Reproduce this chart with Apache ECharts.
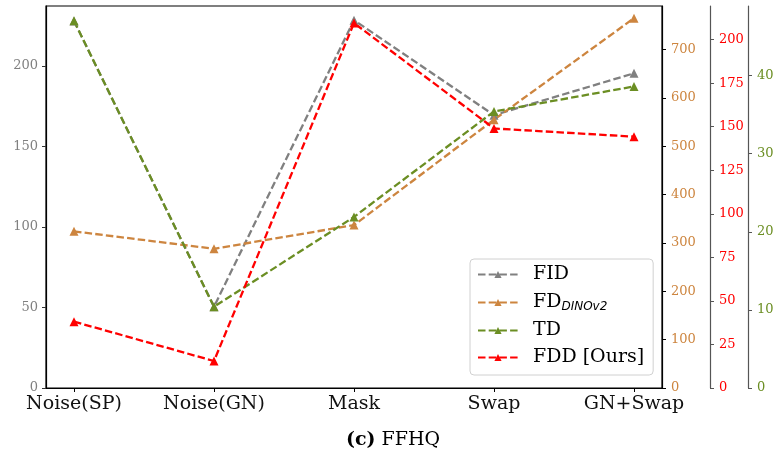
<!DOCTYPE html>
<html>
<head>
<meta charset="utf-8">
<script src="https://cdn.jsdelivr.net/npm/echarts@6/dist/echarts.min.js"></script>
<style>html,body{margin:0;padding:0;background:#fff}#c{width:779px;height:457px}</style>
</head>
<body>
<div id="c"></div>
<script>
const categories = ['Noise(SP)', 'Noise(GN)', 'Mask', 'Swap', 'GN+Swap'];
const fid = [228, 50.5, 228.5, 169.5, 195.5];
const fdDino = [324, 288, 337, 555, 765];
const td = [47.0, 10.4, 21.9, 35.4, 38.6];
const fdd = [38.1, 15.5, 209.5, 149, 144.3];
const leftTicks = [0, 50, 100, 150, 200];
const dinoTicks = [0, 100, 200, 300, 400, 500, 600, 700];
const fddTicks = [0, 25, 50, 75, 100, 125, 150, 175, 200];
const tdTicks = [0, 10, 20, 30, 40];
const xTicks = [0, 1, 2, 3, 4];

const chart = echarts.init(document.getElementById('c'), null, {renderer: 'canvas'});
const serif = 'DejaVu Serif';
const pairs = arr => arr.map((v, i) => [i, v]);

function yAx(opt) {
  return Object.assign({
    type: 'value', min: 0, splitLine: {show: false},
    axisLine: {show: true, onZero: false, lineStyle: {color: '#000', width: 1.2}},
    axisTick: {show: true, length: 4, lineStyle: {color: '#000', width: 1}},
    axisLabel: {fontFamily: serif, fontSize: 13, margin: 8}
  }, opt);
}

const dash = [7.5, 3.2];
function ser(name, data, color, yi) {
  return {
    name, type: 'line', data: pairs(data), yAxisIndex: yi,
    symbol: 'triangle', symbolSize: 9, showSymbol: true,
    lineStyle: {color, width: 2.3, type: dash},
    itemStyle: {color},
    emphasis: {disabled: true}, animation: false
  };
}

chart.setOption({
  animation: false,
  grid: {left: 46, right: 117, top: 6, bottom: 69, show: true, borderColor: '#000', borderWidth: 1.2, backgroundColor: 'transparent'},
  title: {
    text: '{b|(c)} {n|FFHQ}', left: 388, top: 426, textAlign: 'center',
    textStyle: {fontWeight: 'normal', fontFamily: serif, fontSize: 19,
      rich: {b: {fontFamily: serif, fontWeight: 'bold', fontSize: 19, color: '#000'}, n: {fontFamily: serif, fontWeight: 'normal', fontSize: 19, color: '#000'}}}
  },
  xAxis: {
    type: 'value', min: -0.2, max: 4.2, splitLine: {show: false},
    axisLine: {show: true, onZero: false, lineStyle: {color: '#000', width: 1.2}},
    axisTick: {show: true, length: 4, customValues: xTicks, lineStyle: {color: '#000'}},
    axisLabel: {customValues: xTicks, formatter: v => categories[Math.round(v)], fontFamily: serif, fontSize: 19, color: '#111', margin: 7}
  },
  yAxis: [
    yAx({max: 237.3, position: 'left',
      axisTick: {show: true, length: 4, customValues: leftTicks, lineStyle: {color: '#333'}},
      axisLabel: {customValues: leftTicks, fontFamily: serif, fontSize: 13, color: '#808080', margin: 8}}),
    yAx({max: 790.2, position: 'right', offset: 0,
      axisTick: {show: true, length: 4, customValues: dinoTicks, lineStyle: {color: '#000'}},
      axisLabel: {customValues: dinoTicks, fontFamily: serif, fontSize: 13, color: '#CD853F', margin: 9}}),
    yAx({max: 219.3, position: 'right', offset: 48,
      axisLine: {show: true, onZero: false, lineStyle: {color: '#555', width: 1.2}},
      axisTick: {show: true, length: 4, customValues: fddTicks, lineStyle: {color: '#555'}},
      axisLabel: {customValues: fddTicks, fontFamily: serif, fontSize: 13, color: '#FF0000', margin: 9}}),
    yAx({max: 48.9, position: 'right', offset: 86,
      axisLine: {show: true, onZero: false, lineStyle: {color: '#555', width: 1.2}},
      axisTick: {show: true, length: 4, customValues: tdTicks, lineStyle: {color: '#555'}},
      axisLabel: {customValues: tdTicks, fontFamily: serif, fontSize: 13, color: '#6B8E23', margin: 9}})
  ],
  legend: {
    orient: 'vertical', left: 470, top: 259,
    data: ['FID', 'FD_DINOv2', 'TD', 'FDD [Ours]'],
    padding: [6, 9, 8, 7], itemGap: 8, itemWidth: 40, itemHeight: 9,
    backgroundColor: 'rgba(255,255,255,0.85)', borderColor: '#d0d0d0', borderWidth: 1, borderRadius: 4,
    formatter: name => name === 'FD_DINOv2' ? '{g|}{t|FD}{s|DINOv2}' : '{g|}{t|' + name + '}',
    textStyle: {
      fontFamily: serif, fontSize: 19, color: '#000',
      rich: {
        g: {width: 10},
        t: {fontFamily: serif, fontSize: 19, lineHeight: 20, color: '#000'},
        s: {fontFamily: 'DejaVu Sans', fontStyle: 'italic', fontSize: 12, color: '#000', padding: [9, 0, 0, 0], lineHeight: 12}
      }
    }
  },
  series: [
    ser('FID', fid, '#808080', 0),
    ser('FD_DINOv2', fdDino, '#CD853F', 1),
    ser('TD', td, '#6B8E23', 3),
    ser('FDD [Ours]', fdd, '#FF0000', 2)
  ]
});
</script>
</body>
</html>
